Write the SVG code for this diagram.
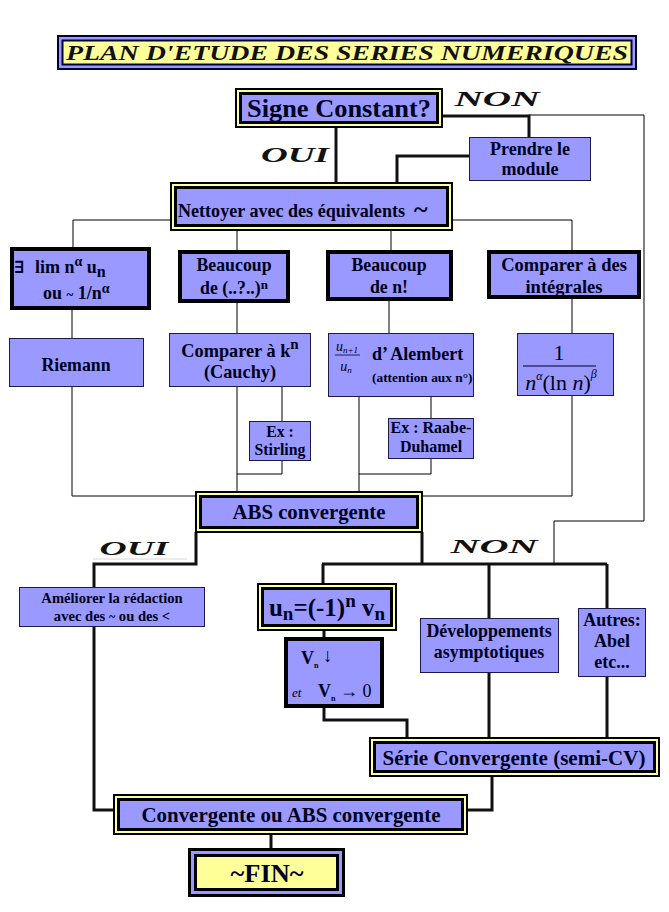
<svg xmlns="http://www.w3.org/2000/svg" width="669" height="912" viewBox="0 0 669 912">
<style>
.bg{fill:#ffffff}
.thin{fill:#9999ff;stroke:#1a1a4d;stroke-width:1}
.thick{fill:#9999ff;stroke:#000;stroke-width:4}
.dout{fill:#ffffa6;stroke:#000;stroke-width:2}
.din{fill:#9999ff;stroke:#000;stroke-width:3}
.t{font-family:"Liberation Serif","DejaVu Serif",serif;font-weight:bold;fill:#000020;text-anchor:middle}
.ts{font-family:"Liberation Serif","DejaVu Serif",serif;font-weight:bold;fill:#000020}
.scr{font-family:"Liberation Serif","DejaVu Serif",serif;font-weight:bold;font-style:italic;fill:#111;text-anchor:middle}
.m{font-family:"Liberation Serif","DejaVu Serif",serif;fill:#000020}
.c1{stroke:#000;stroke-width:1;fill:none}
.c3{stroke:#111;stroke-width:3;fill:none}
</style>
<rect class="bg" x="0" y="0" width="669" height="912"/>

<g id="connectors">
  <path class="c1" d="M73 220 H572 M73 220 V247 M237 230 V250 M391 230 V250 M572 220 V250"/>
  <path class="c1" d="M72 310 V338 M72 387 V496 H196"/>
  <path class="c1" d="M237 303 V333 M237 387 V492 M282 387 V421 M282 461 V474 H237"/>
  <path class="c1" d="M389 301 V333 M359 397 V492 M431 397 V418 M431 459 V474 H359"/>
  <path class="c1" d="M572 299 V333 M572 396 V496 H422"/>
  <path class="c1" d="M529 115 H644 V521 H554 V564"/>
  <path d="M93 559 H187" stroke="#d8d8d8" stroke-width="1" fill="none"/>
  <path class="c3" d="M336 127 V183 M442 116 H529 V138 M470 156 H397 V183"/>
  <path class="c3" d="M196 532 V564 H94 V810 H114"/>
  <path class="c3" d="M422 532 V564 M322 564 H607 M323 564 V584 M489 564 V619 M607 564 V609"/>
  <path class="c3" d="M324 630 V638 M324 707 V720 H407 V738 M489 672 V738 M607 676 V738"/>
  <path class="c3" d="M492 776 V810 H467 M271 834 V849"/>
</g>

<g id="title">
  <rect x="58" y="36" width="578" height="33" fill="#9999ff" stroke="#000033" stroke-width="2"/>
  <rect x="62.5" y="40.5" width="569" height="24" fill="#ffff99" stroke="#000033" stroke-width="2"/>
  <text class="scr" x="347" y="60" font-size="20" textLength="562" lengthAdjust="spacingAndGlyphs">PLAN D'ETUDE DES SERIES NUMERIQUES</text>
</g>

<g id="signe">
  <rect class="dout" x="236" y="89" width="206" height="38"/>
  <rect class="din" x="240.5" y="93.5" width="197" height="29"/>
  <text class="t" x="339" y="117" font-size="26" textLength="184" lengthAdjust="spacingAndGlyphs">Signe Constant?</text>
</g>
<g id="label-non-top"><text class="scr" x="497" y="106" font-size="20" textLength="85" lengthAdjust="spacingAndGlyphs">NON</text></g>
<g id="label-oui-top"><text class="scr" x="295" y="162" font-size="20" textLength="68" lengthAdjust="spacingAndGlyphs">OUI</text></g>

<g id="prendre">
  <rect class="thin" x="469.5" y="137.5" width="121" height="43"/>
  <text class="t" x="530" y="155" font-size="18">Prendre le</text>
  <text class="t" x="530" y="175" font-size="18">module</text>
</g>

<g id="nettoyer">
  <rect class="dout" x="171" y="183" width="281" height="47"/>
  <rect class="din" x="175.5" y="187.5" width="272" height="38"/>
  <text class="ts" x="178" y="217" font-size="17.9" textLength="227" lengthAdjust="spacingAndGlyphs">Nettoyer avec des équivalents</text>
  <text class="ts" x="414" y="218" font-size="26">~</text>
</g>

<g id="lim">
  <rect class="thick" x="12" y="249" width="137" height="59"/>
  <text class="ts" x="14" y="273" font-size="17">∃</text>
  <text class="ts" x="35" y="273" font-size="18">lim n<tspan font-size="14" dy="-7">α</tspan><tspan dy="7"> u</tspan><tspan font-size="16" dy="4">n</tspan></text>
  <text class="ts" x="43" y="299" font-size="18">ou <tspan font-size="13">~</tspan> 1/n<tspan font-size="14" dy="-6">α</tspan></text>
</g>

<g id="beaucoup-pow">
  <rect class="thick" x="180" y="252" width="108" height="49"/>
  <text class="t" x="234" y="271" font-size="17.8">Beaucoup</text>
  <text class="t" x="234" y="294" font-size="17.8">de (..?..)<tspan font-size="13" dy="-5">n</tspan></text>
</g>

<g id="beaucoup-fact">
  <rect class="thick" x="328" y="252" width="123" height="47"/>
  <text class="t" x="389" y="271" font-size="17.8">Beaucoup</text>
  <text class="t" x="389" y="293" font-size="17.8">de n!</text>
</g>

<g id="integrales">
  <rect class="thick" x="489" y="252" width="150" height="45"/>
  <text class="t" x="564" y="271" font-size="18.5">Comparer à des</text>
  <text class="t" x="564" y="293" font-size="18.5">intégrales</text>
</g>

<g id="riemann">
  <rect class="thin" x="9.5" y="338.5" width="134" height="48"/>
  <text class="t" x="76" y="371" font-size="17.8">Riemann</text>
</g>

<g id="cauchy">
  <rect class="thin" x="169.5" y="333.5" width="141" height="53"/>
  <text class="t" x="240" y="357" font-size="18.3">Comparer à k<tspan font-size="15" dy="-8">n</tspan></text>
  <text class="t" x="240" y="378" font-size="18.3">(Cauchy)</text>
</g>

<g id="stirling">
  <rect class="thin" x="249.5" y="421.5" width="61" height="39"/>
  <text class="t" x="280" y="437" font-size="15.8">Ex :</text>
  <text class="t" x="280" y="455" font-size="15.8">Stirling</text>
</g>

<g id="alembert">
  <rect class="thin" x="328.5" y="333.5" width="145" height="63"/>
  <text class="m" x="347" y="351" font-size="14" font-style="italic" text-anchor="middle">u<tspan font-size="9" dy="2">n+1</tspan></text>
  <line x1="335" y1="355" x2="360" y2="355" stroke="#000020" stroke-width="0.8"/>
  <text class="m" x="346" y="371" font-size="14" font-style="italic" text-anchor="middle">u<tspan font-size="9" dy="2">n</tspan></text>
  <text class="ts" x="372" y="360" font-size="18">d’ Alembert</text>
  <text class="ts" x="372" y="382" font-size="13.4">(attention aux n°)</text>
</g>

<g id="integral-form">
  <rect class="thin" x="517.5" y="333.5" width="96" height="62"/>
  <text class="m" x="559" y="360" font-size="22" text-anchor="middle">1</text>
  <line x1="523" y1="366" x2="596" y2="366" stroke="#000020" stroke-width="1"/>
  <text class="m" x="561" y="390" font-size="22" text-anchor="middle"><tspan font-style="italic">n</tspan><tspan font-size="12" font-style="italic" dy="-10">α</tspan><tspan dy="10">(ln</tspan><tspan font-style="italic"> n</tspan>)<tspan font-size="12" font-style="italic" dy="-12">β</tspan></text>
</g>

<g id="raabe">
  <rect class="thin" x="388.5" y="418.5" width="85" height="40"/>
  <text class="t" x="431" y="433" font-size="16">Ex : Raabe-</text>
  <text class="t" x="431" y="452" font-size="16">Duhamel</text>
</g>

<g id="abs">
  <rect class="dout" x="196" y="492" width="226" height="40"/>
  <rect class="din" x="200.5" y="496.5" width="217" height="31"/>
  <text class="t" x="309" y="519" font-size="20.8" textLength="153" lengthAdjust="spacingAndGlyphs">ABS convergente</text>
</g>
<g id="label-oui-bottom"><text class="scr" x="134" y="555" font-size="19" textLength="69" lengthAdjust="spacingAndGlyphs">OUI</text></g>
<g id="label-non-bottom"><text class="scr" x="494" y="553" font-size="19" textLength="87" lengthAdjust="spacingAndGlyphs">NON</text></g>

<g id="ameliorer">
  <rect class="thin" x="19.5" y="587.5" width="185" height="39"/>
  <text class="t" x="112" y="603" font-size="14.6">Améliorer la rédaction</text>
  <text class="t" x="112" y="621" font-size="14.6">avec des <tspan font-size="12">~</tspan> ou des  &lt;</text>
</g>

<g id="alternee">
  <rect class="dout" x="258" y="584" width="138" height="46"/>
  <rect class="din" x="262.5" y="588.5" width="129" height="37"/>
  <text class="t" x="327" y="616" font-size="25">u<tspan font-size="19" dy="4">n</tspan><tspan dy="-4">=(-1)</tspan><tspan font-size="19" dy="-9">n</tspan><tspan dy="9"> v</tspan><tspan font-size="19" dy="4">n</tspan></text>
</g>

<g id="vn">
  <rect class="thick" x="286" y="639" width="96" height="67"/>
  <text class="ts" x="301" y="664" font-size="18">V<tspan font-size="8" dy="4">n</tspan></text>
  <text class="m" x="323" y="662" font-size="19">↓</text>
  <text class="m" x="292" y="697" font-size="13" font-style="italic" font-family="DejaVu Sans Mono, monospace">et</text>
  <text class="ts" x="318" y="697" font-size="18">V<tspan font-size="8" dy="4">n</tspan></text>
  <text class="m" x="340" y="697" font-size="18">→ 0</text>
</g>

<g id="developpements">
  <rect class="thin" x="420.5" y="618.5" width="138" height="54"/>
  <text class="t" x="489" y="637" font-size="17.9">Développements</text>
  <text class="t" x="489" y="658" font-size="17.9">asymptotiques</text>
</g>

<g id="autres">
  <rect class="thin" x="578.5" y="608.5" width="67" height="68"/>
  <text class="t" x="612" y="626" font-size="18">Autres:</text>
  <text class="t" x="612" y="647" font-size="18">Abel</text>
  <text class="t" x="612" y="668" font-size="18">etc...</text>
</g>

<g id="serie">
  <rect class="dout" x="370" y="738" width="289" height="38"/>
  <rect class="din" x="374.5" y="742.5" width="280" height="29"/>
  <text class="t" x="514" y="765" font-size="21" textLength="263" lengthAdjust="spacingAndGlyphs">Série Convergente (semi-CV)</text>
</g>

<g id="conv">
  <rect class="dout" x="114" y="795" width="353" height="39"/>
  <rect class="din" x="118.5" y="799.5" width="344" height="30"/>
  <text class="t" x="291" y="822" font-size="20.8" textLength="299" lengthAdjust="spacingAndGlyphs">Convergente ou ABS convergente</text>
</g>

<g id="fin">
  <rect x="189.5" y="849.5" width="154" height="46" fill="#9999ff" stroke="#000" stroke-width="3"/>
  <rect x="195.5" y="855.5" width="142" height="34" fill="#ffff99" stroke="#000" stroke-width="3"/>
  <text class="t" x="267" y="882" font-size="26" textLength="73" lengthAdjust="spacingAndGlyphs">~FIN~</text>
</g>
</svg>
